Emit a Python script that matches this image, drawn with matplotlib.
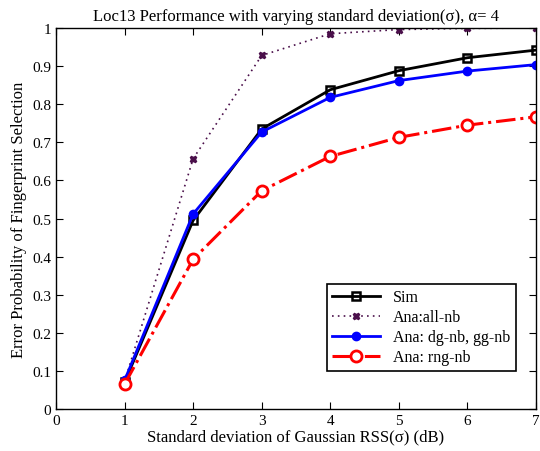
import numpy as np
import matplotlib
matplotlib.use("Agg")
import matplotlib.pyplot as plt
from matplotlib.ticker import FuncFormatter

plt.rcParams['font.family'] = ['Liberation Serif', 'DejaVu Serif']
plt.rcParams['mathtext.fontset'] = 'stix'

# data
sigma = [1, 2, 3, 4, 5, 6, 7]
sim = [0.070, 0.495, 0.735, 0.838, 0.888, 0.922, 0.942]
ana_all = [0.072, 0.657, 0.928, 0.985, 0.996, 0.999, 1.000]
ana_dg = [0.075, 0.512, 0.727, 0.818, 0.862, 0.887, 0.904]
ana_rng = [0.065, 0.393, 0.573, 0.663, 0.713, 0.745, 0.767]

fig = plt.figure(figsize=(5.4, 4.52), dpi=100)
ax = fig.add_axes([0.1037, 0.0929, 0.8889, 0.8429])

ax.plot(sigma, sim, color='black', lw=2, marker='s', ms=6, mfc='none', mew=1.8, label='Sim')
ax.plot(sigma, ana_all, color='#4a0f4a', lw=1.2, ls=(0, (1, 2.5)), marker='X', ms=5, label='Ana:all-nb')
ax.plot(sigma, ana_dg, color='blue', lw=2, marker='o', ms=6, label='Ana: dg-nb, gg-nb')
ax.plot(sigma, ana_rng, color='red', lw=2.2, ls='-.', marker='o', ms=8, mfc='white', mew=2, label='Ana: rng-nb')

ax.set_xlim(0, 7)
ax.set_ylim(0, 1)
ax.set_xticks(range(8))
ax.set_yticks(np.arange(0, 1.01, 0.1))
ax.yaxis.set_major_formatter(FuncFormatter(lambda v, p: '%g' % round(v, 1)))
ax.tick_params(direction='in', top=True, right=True, labelsize=11, length=5)
for s in ax.spines.values():
    s.set_linewidth(1)

ax.set_xlabel('Standard deviation of Gaussian RSS(σ) (dB)', fontsize=12, labelpad=1)
ax.set_ylabel('Error Probability of Fingerprint Selection', fontsize=12, labelpad=4)
ax.set_title('Loc13 Performance with varying standard deviation(σ), α= 4', fontsize=12, pad=6)

leg = ax.legend(loc='lower right', bbox_to_anchor=(0.958, 0.10), borderaxespad=0, fontsize=11.5,
                fancybox=False, edgecolor='black', framealpha=1, handlelength=3,
                borderpad=0.35, labelspacing=0.25)
leg.get_frame().set_linewidth(1.2)

fig.savefig('out.png', dpi=100)
